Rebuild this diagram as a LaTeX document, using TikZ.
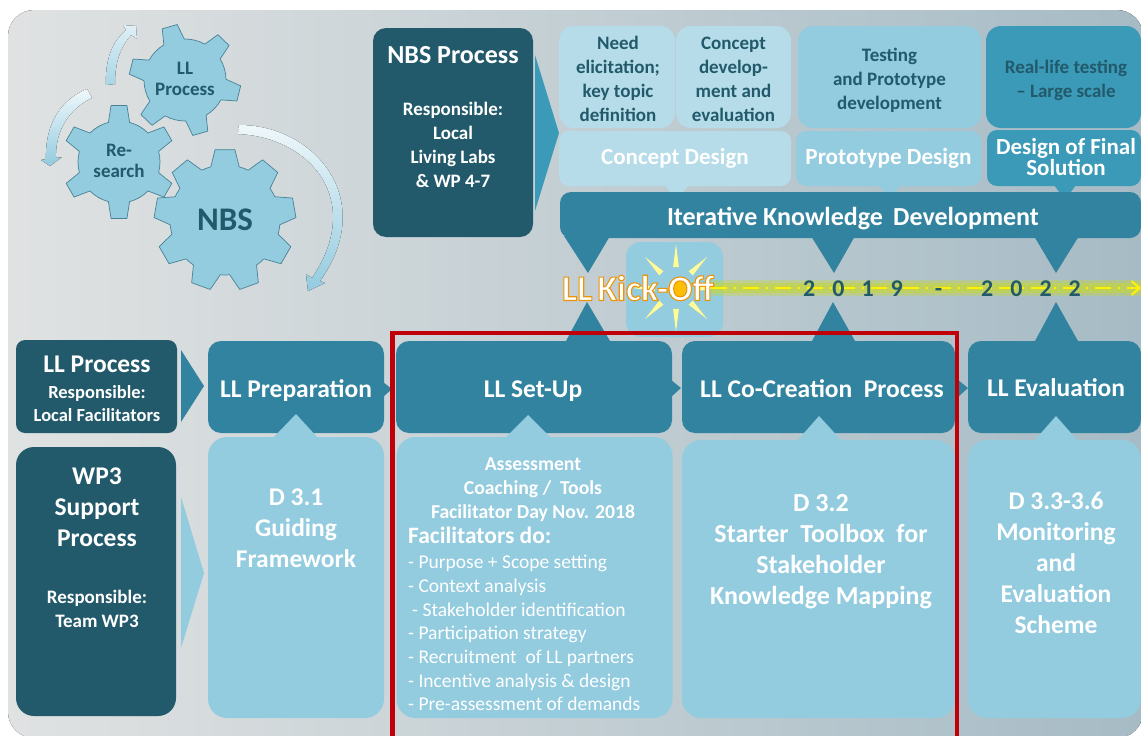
\documentclass[tikz,border=0pt]{standalone}
\usepackage{fontspec}
\setmainfont{Carlito}
\usetikzlibrary{calc,arrows.meta}
\definecolor{dkteal}{HTML}{225A6B}
\definecolor{teal}{HTML}{32839F}
\definecolor{midteal}{HTML}{3A9AB7}
\definecolor{ltblue}{HTML}{93CBDF}
\definecolor{paleblue}{HTML}{B5DCE8}
\definecolor{redline}{HTML}{C00008}
\definecolor{sunray}{HTML}{FFFB96}
\definecolor{glow}{HTML}{C6D82E}
\definecolor{bgleft}{HTML}{E0E2E2}
\definecolor{bgmid}{HTML}{C6D2D7}
\definecolor{bgright}{HTML}{A6BBC5}
\tikzset{
 box/.style={rectangle, rounded corners=13pt, inner sep=0pt, align=flush center, font=\bfseries},
 dkbox/.style={box, fill=dkteal, text=white},
 tealbox/.style={box, fill=teal, text=white},
 ltbox/.style={box, rounded corners=19pt, fill=ltblue, text=white},
 palebox/.style={box, rounded corners=15pt, fill=paleblue},
 big/.style={font=\fontsize{25.5}{31}\selectfont\bfseries},
 small/.style={font=\fontsize{19}{24}\selectfont\bfseries},
 rowtxt/.style={text=white, big, anchor=base, inner sep=0pt},
 gearline/.style={fill=ltblue, draw=teal!70!gray, line width=0.7pt, line join=round},
 geartxt/.style={text=dkteal, align=center, font=\fontsize{19}{21}\selectfont\bfseries},
}
% #1 centre, #2 inner radius, #3 outer radius, #4 teeth, #5 first tooth angle
\newcommand{\gear}[5]{
\draw[gearline] ($(#1)+(#5-15:#2)$)
 \foreach \k [evaluate=\k as \a using #5+\k*360/#4] in {1,...,#4} {
 -- ($(#1)+(\a-360/#4-8:#3)$) -- ($(#1)+(\a-360/#4+8:#3)$) -- ($(#1)+(\a-360/#4+15:#2)$)
 arc[start angle=\a-360/#4+15, end angle=\a-15, radius=#2]
 } -- cycle;
}
\begin{document}
\begin{tikzpicture}[x=1pt,y=-1pt]
\clip (0,0) rectangle (1141,736);
\fill[white] (0,0) rectangle (1141,736);
\fill[rounded corners=26pt, left color=bgleft, middle color=bgmid, right color=bgright] (8,10) rectangle (1143,738);

% gears
\gear{185,80}{41}{56}{6}{-106}
\gear{119,162}{41}{57}{6}{-90}
\gear{225,220}{55}{71}{9}{-90}
\node[geartxt] (gearLL) at (185,79) {LL\\Process};
\node[geartxt] (gearRe) at (119,161) {Re-\\search};
\node[text=dkteal, font=\fontsize{33}{33}\selectfont\bfseries] (gearNBS) at (225,220) {NBS};

% curved arrows round the gears
\fill[bottom color=ltblue!80!white, top color=ltblue!30!white] (106,85) .. controls (105,60) and (112,42) .. (126,30) -- (123,25) -- (136,26) -- (137,39) -- (131,35) .. controls (120,48) and (115,62) .. (115,84) -- cycle;
\fill[top color=ltblue!15!white, bottom color=ltblue] (87,89) .. controls (60,100) and (45,125) .. (46,159) -- (41,160) -- (50,166) -- (62,157) -- (56,158) .. controls (55,130) and (70,108) .. (92,98) -- cycle;
\fill[top color=ltblue!15!white, bottom color=ltblue] (239,125) .. controls (315,125) and (378,200) .. (320,281) -- (325,283) -- (308,291) -- (306,274) -- (312,278) .. controls (365,200) and (310,137) .. (238,134) -- cycle;

% upper part
\fill[midteal] (535,55) -- (559,133) -- (535,211) -- cycle;
\node[dkbox, minimum width=160pt, minimum height=209pt] (nbsbox) at (453,132.5) {};
\node[text=white, font=\fontsize{26}{26}\selectfont\bfseries] (nbstitle) at (453,55) {NBS Process};
\node[text=white, small, align=center] (nbsresp) at (453,145) {Responsible:\\Local\\Living Labs\\\& WP 4-7};

\node[palebox, minimum width=116pt, minimum height=102pt] (need) at (617,77) {};
\node[text=dkteal, small, align=center] (needtxt) at (618,79) {Need\\elicitation;\\key topic\\definition};
\node[palebox, minimum width=115pt, minimum height=102pt] (concept) at (733.5,77) {};
\node[text=dkteal, small, align=center] (concepttxt) at (733.5,79) {Concept\\develop-\\ment and\\evaluation};
\node[ltbox, rounded corners=15pt, minimum width=183pt, minimum height=102pt] (testing) at (889.5,77) {};
\node[text=dkteal, small, align=center] (testingtxt) at (889.5,80) {Testing\\and Prototype\\development};
\node[box, rounded corners=15pt, fill=midteal, minimum width=155pt, minimum height=102pt] (reallife) at (1063.5,77) {};
\node[text=dkteal, small, align=center] (reallifetxt) at (1066,80) {Real-life testing\\-- Large scale};

\fill[paleblue] (665,185) -- (676,200) -- (689,185) -- cycle;
\fill[ltblue] (879,185) -- (890,200) -- (901,185) -- cycle;
\fill[midteal] (1054,185) -- (1065,200) -- (1076,185) -- cycle;
\node[palebox, rounded corners=10pt, text=white, font=\fontsize{23}{23}\selectfont\bfseries, minimum width=232pt, minimum height=55pt] (condes) at (675,158.5) {Concept Design};
\node[ltbox, rounded corners=10pt, font=\fontsize{23.2}{23}\selectfont\bfseries, minimum width=185pt, minimum height=55pt] (protdes) at (888.5,158.5) {Prototype Design};
\node[box, rounded corners=10pt, fill=midteal, minimum width=154pt, minimum height=56pt] (finaldes) at (1064,158) {};
\node[text=white, align=center, font=\fontsize{23}{20}\selectfont\bfseries] (finaltxt) at (1066,157) {Design of Final\\Solution};

\fill[teal] (564,236) -- (588,273) -- (610,236) -- cycle;
\fill[teal] (811,236) -- (834,273) -- (855,236) -- cycle;
\fill[teal] (1034,236) -- (1056,273) -- (1079,236) -- cycle;
\node[tealbox, rounded corners=11pt, minimum width=581pt, minimum height=46pt] (iter) at (850.5,215) {};
\node[text=white, font=\fontsize{26}{26}\selectfont\bfseries] (itertxt) at (853,219) {Iterative Knowledge\ \,Development};

% kick-off
\node[box, rounded corners=15pt, fill=ltblue, minimum width=97pt, minimum height=95pt] (sunbox) at (674.5,289.5) {};
\foreach \r in {0,45,...,315}
 \fill[sunray] ($(676,288)+(\r-8:21)$) -- ($(676,288)+(\r:44)$) -- ($(676,288)+(\r+8:21)$) -- cycle;
\fill[orange!50!yellow] (677,289) circle (9);
\coordinate (lineend) at (1141,288);
\coordinate (linestart) at (711,288);
\draw[glow, line width=16pt, opacity=0.35] (linestart) -- (lineend);
\draw[glow, line width=10pt, opacity=0.55] (linestart) -- (lineend);
\draw[yellow, line width=2pt, dash pattern=on 16pt off 7pt on 2pt off 7pt, -{Straight Barb[length=8pt,width=14pt]}] (linestart) -- (lineend);
\node[text=white, font=\fontsize{36}{36}\selectfont\bfseries] (kick) at (638,288) {\addfontfeature{FakeBold=3}\special{pdf:code 0.93 0.58 0.02 RG}\spaceskip=5pt LL Kick-Off};
\node[text=dkteal, font=\fontsize{24}{24}\selectfont\bfseries, anchor=west, inner sep=0pt] (years) at (803,289) {\spaceskip=17pt 2 0 1 9\hspace{15pt} -\hspace{22pt} 2 0 2 2};

% lower part
\fill[teal] (181,350) -- (204,386) -- (181,422) -- cycle;
\fill[ltblue] (181,497) -- (204,573) -- (181,648) -- cycle;
\fill[teal] (383,382) -- (392,389) -- (383,397) -- cycle;
\fill[teal] (671,380) -- (681,388) -- (671,397) -- cycle;
\fill[teal] (958,380) -- (968,388) -- (958,397) -- cycle;
\fill[teal] (566,341) -- (587,302) -- (610,341) -- cycle;
\fill[teal] (812,341) -- (833,302) -- (855,341) -- cycle;
\fill[teal] (1035,341) -- (1056,302) -- (1078,341) -- cycle;

\node[dkbox, rounded corners=9pt, minimum width=161pt, minimum height=93pt] (llproc) at (96.5,386.5) {};
\node[text=white, big] (llproctitle) at (97,364) {LL Process};
\node[text=white, font=\fontsize{18.5}{23}\selectfont\bfseries, align=center] (llprocresp) at (97,403.5) {Responsible:\\Local Facilitators};
\node[dkbox, rounded corners=18pt, minimum width=160pt, minimum height=269pt] (wpbox) at (96,581.5) {};
\node[text=white, big, align=center] (wptitle) at (97,507) {WP3\\Support\\Process};
\node[text=white, small, align=center] (wpresp) at (97,608.5) {Responsible:\\Team WP3};

\node[tealbox, minimum width=176pt, minimum height=92pt] (prep) at (296,387) {};
\node[rowtxt] (preptxt) at (296,397) {LL Preparation};
\node[tealbox, minimum width=276pt, minimum height=92pt] (setup) at (534,387) {};
\node[rowtxt] (setuptxt) at (533,397) {LL Set-Up};
\node[tealbox, minimum width=273pt, minimum height=92pt] (cocr) at (818.5,387) {};
\node[rowtxt] (cocrtxt) at (822,397) {LL Co-Creation\ \ Process};
\node[tealbox, minimum width=173pt, minimum height=92pt] (eval) at (1054.5,387) {};
\node[rowtxt] (evaltxt) at (1056,396.5) {LL Evaluation};

\fill[ltblue] (273,438) -- (296,414) -- (318,438) -- cycle;
\fill[ltblue] (505,438) -- (528,415) -- (551,438) -- cycle;
\fill[ltblue] (797,441) -- (819,416) -- (842,441) -- cycle;
\fill[ltblue] (1034,441) -- (1056,416) -- (1078,441) -- cycle;
\node[ltbox, minimum width=176pt, minimum height=281pt] (d31) at (296,577.5) {};
\node[text=white, big, align=center] (d31txt) at (296,528) {D 3.1\\Guiding\\Framework};
\node[ltbox, minimum width=276pt, minimum height=281pt] (setbox) at (534.5,577.5) {};
\node[text=white, align=center, font=\fontsize{19.7}{23.7}\selectfont\bfseries] (assess) at (533,489.5) {Assessment\\Coaching /\ \ Tools\\Facilitator Day Nov. 2018};
\node[text=white, anchor=west, inner sep=0pt, font=\fontsize{23.5}{23.5}\selectfont\bfseries] (fdo) at (408,535) {Facilitators do:};
\node[text=white, anchor=north west, inner sep=0pt, align=left, font=\fontsize{19.5}{23.7}\selectfont] (fdolist) at (408,555) {- Purpose + Scope setting\\- Context analysis\\\hspace*{4pt}- Stakeholder identification\\- Participation strategy\\- Recruitment\ \ of LL partners\\- Incentive analysis \& design\\- Pre-assessment of demands};
\node[ltbox, minimum width=273pt, minimum height=278pt] (d32) at (818.5,579) {};
\node[text=white, align=center, font=\fontsize{26}{31}\selectfont\bfseries] (d32txt) at (821,551.5) {D 3.2\\Starter\ \ Toolbox\ \ for\\Stakeholder\\Knowledge Mapping};
\node[ltbox, minimum width=173pt, minimum height=278pt] (d33) at (1054.5,579) {};
\node[text=white, big, align=center] (d33txt) at (1056,563) {D 3.3-3.6\\Monitoring\\and\\Evaluation\\Scheme};

% focus frame
\draw[redline, line width=4.5pt] (392.5,760) |- (957,333) -- (957,760);
\end{tikzpicture}
\end{document}
